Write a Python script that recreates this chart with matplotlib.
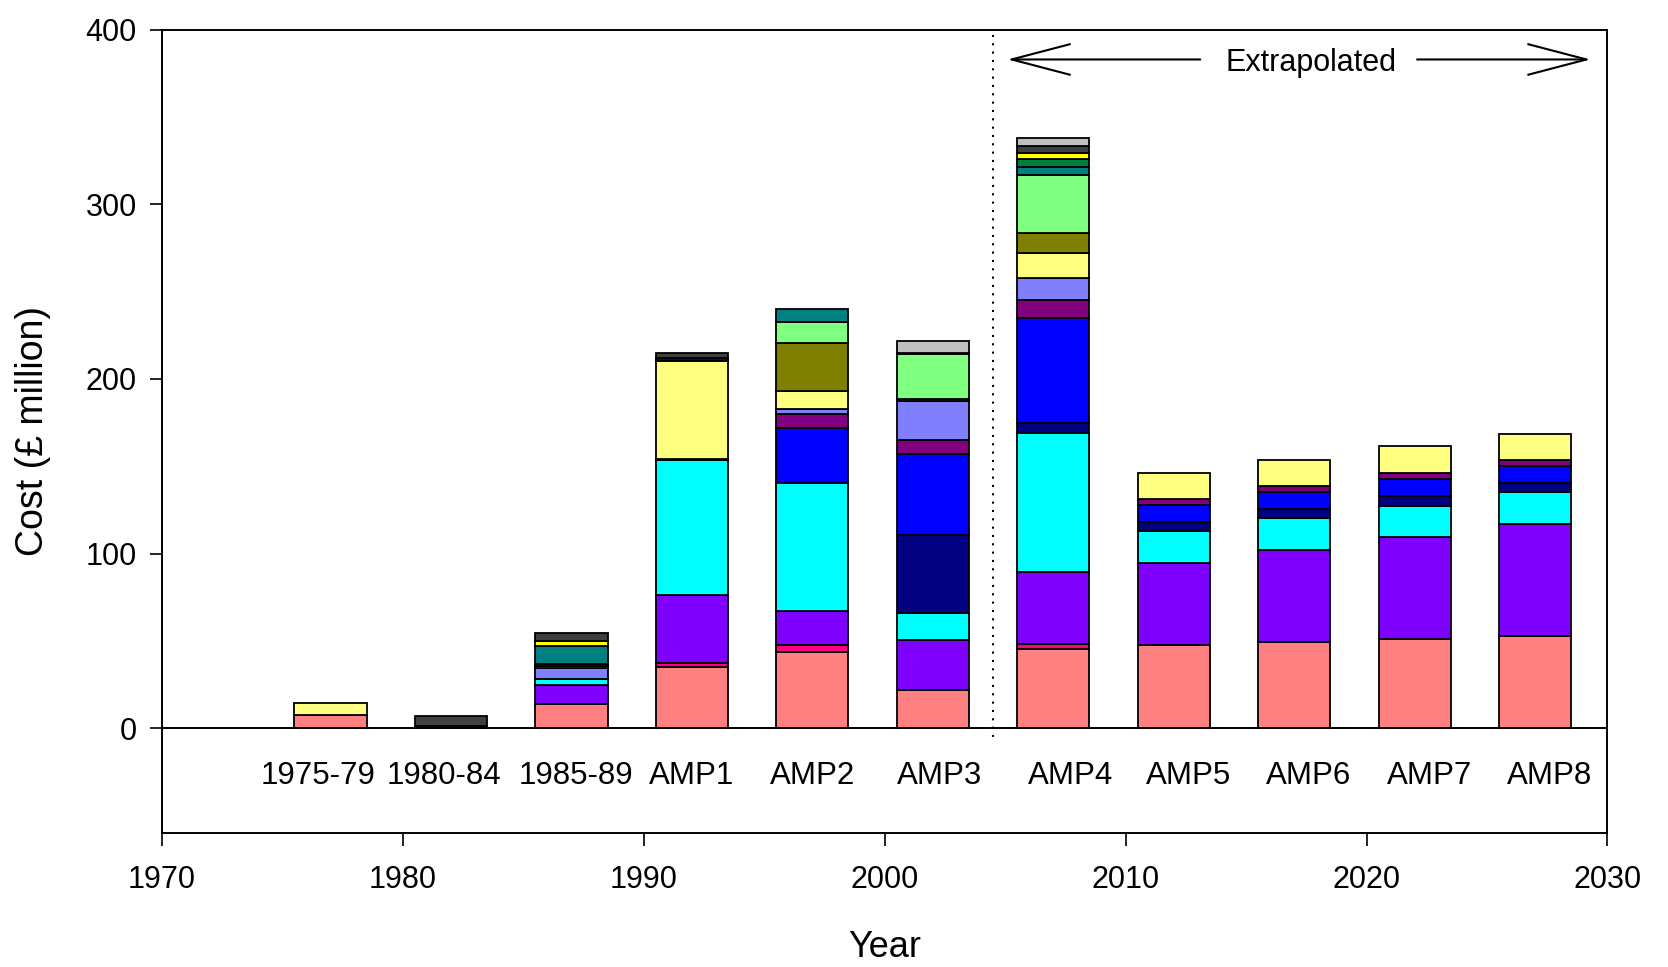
import matplotlib
matplotlib.use("Agg")
import matplotlib.pyplot as plt
import numpy as np

plt.rcParams['font.family'] = ['Liberation Sans', 'DejaVu Sans']

# ---- data ----
categories = ["1975-79", "1980-84", "1985-89", "AMP1", "AMP2", "AMP3",
              "AMP4", "AMP5", "AMP6", "AMP7", "AMP8"]
years = [1977, 1982, 1987, 1992, 1997, 2002, 2007, 2012, 2017, 2022, 2027]
label_x = [1976.5, 1981.7, 1987.2, 1992.0, 1997.0, 2002.3,
           2007.7, 2012.6, 2017.6, 2022.6, 2027.6]

salmon     = [7.6, 1.1, 13.9, 35.1, 43.7, 21.8, 45.5, 47.6, 49.5, 51.2, 52.9]
pink       = [0, 0, 0, 2.3, 4.1, 0, 2.8, 0, 0, 0, 0]
violet     = [0, 0, 11.1, 39.0, 19.6, 28.6, 40.9, 46.8, 52.7, 58.4, 64.2]
cyan       = [0, 0, 3.1, 77.0, 73.2, 15.7, 80.0, 18.3, 18.0, 17.8, 18.0]
navy       = [0, 0, 0, 0, 0, 44.3, 5.7, 5.5, 5.5, 5.6, 5.5]
blue       = [0, 0, 0, 0, 31.1, 46.6, 60.0, 9.4, 9.7, 9.7, 9.7]
purple     = [0, 0, 0, 0, 8.0, 7.9, 10.1, 3.4, 3.3, 3.4, 3.3]
periwinkle = [0, 0, 6.5, 0.6, 3.3, 22.3, 12.6, 0, 0, 0, 0]
lightyel   = [7.1, 0, 0.9, 56.1, 10.3, 0, 14.7, 15.1, 14.9, 15.3, 15.1]
olive      = [0, 0, 1.4, 0, 27.1, 1.1, 11.1, 0, 0, 0, 0]
lightgreen = [0, 0, 0, 0, 12.5, 26.0, 33.2, 0, 0, 0, 0]
teal       = [0, 0, 9.9, 0, 7.4, 0, 4.6, 0, 0, 0, 0]
green      = [0, 0, 0, 0.6, 0, 0, 4.6, 0, 0, 0, 0]
yellow     = [0, 0, 3.4, 1.1, 0, 0.8, 3.4, 0, 0, 0, 0]
darkgrey   = [0, 5.8, 4.6, 3.1, 0, 0, 4.2, 0, 0, 0, 0]
grey       = [0, 0, 0, 0, 0, 6.9, 4.8, 0, 0, 0, 0]

series = [salmon, pink, violet, cyan, navy, blue, purple, periwinkle,
          lightyel, olive, lightgreen, teal, green, yellow, darkgrey, grey]
colors = ["#FF8080", "#FF0080", "#8000FF", "#00FFFF", "#000080", "#0000FF",
          "#800080", "#8080FF", "#FFFF80", "#808000", "#80FF80", "#008080",
          "#008040", "#FFFF00", "#404040", "#C0C0C0"]

x_ticks = [1970, 1980, 1990, 2000, 2010, 2020, 2030]
y_ticks = [0, 100, 200, 300, 400]

# ---- figure ----
fig = plt.figure(figsize=(16.68, 9.67), dpi=100)
ax = fig.add_axes([0.0970, 0.1386, 0.8667, 0.8306])

x = np.array(years, dtype=float)
bottom = np.zeros(len(years))
for vals, col in zip(series, colors):
    v = np.array(vals, dtype=float)
    m = v > 0
    ax.bar(x[m], v[m], bottom=bottom[m], width=3.0, color=col,
           edgecolor="black", linewidth=1.3, zorder=3)
    bottom += v

ax.set_xlim(1970, 2030)
ax.set_ylim(-60, 400)
ax.set_xticks(x_ticks)
ax.set_yticks(y_ticks)
ax.tick_params(axis='both', direction='out', length=9, width=1.2,
               labelsize=22)
ax.tick_params(axis='y', pad=9)
ax.tick_params(axis='x', pad=14)
for s in ax.spines.values():
    s.set_linewidth(1.4)

ax.axhline(0, color="black", linewidth=1.4, zorder=4)

for xc, lab in zip(label_x, categories):
    ax.text(xc, -27.4, lab, ha="center", va="center", fontsize=22.5)

ax.plot([2004.5, 2004.5], [-5, 400], linestyle=(0, (1, 3)), color="black",
        linewidth=1.5, zorder=2)

ax.text(2017.7, 381, "Extrapolated", ha="center", va="center", fontsize=22)
arrow_kw = dict(arrowstyle="->,head_length=2.1,head_width=0.55",
                color="black", linewidth=1.5, mutation_scale=20,
                shrinkA=0, shrinkB=0)
ax.annotate("", xy=(2005.1, 383), xytext=(2013.1, 383), arrowprops=arrow_kw)
ax.annotate("", xy=(2029.3, 383), xytext=(2022.1, 383), arrowprops=arrow_kw)

ax.set_ylabel("Cost (£ million)", fontsize=27)
ax.yaxis.set_label_coords(-0.089, 0.5)
ax.set_xlabel("Year", fontsize=26)
ax.xaxis.set_label_coords(0.5, -0.142)
ax.xaxis.label.set_va("center")
ax.yaxis.label.set_va("center")

fig.savefig("out.png", dpi=100)
